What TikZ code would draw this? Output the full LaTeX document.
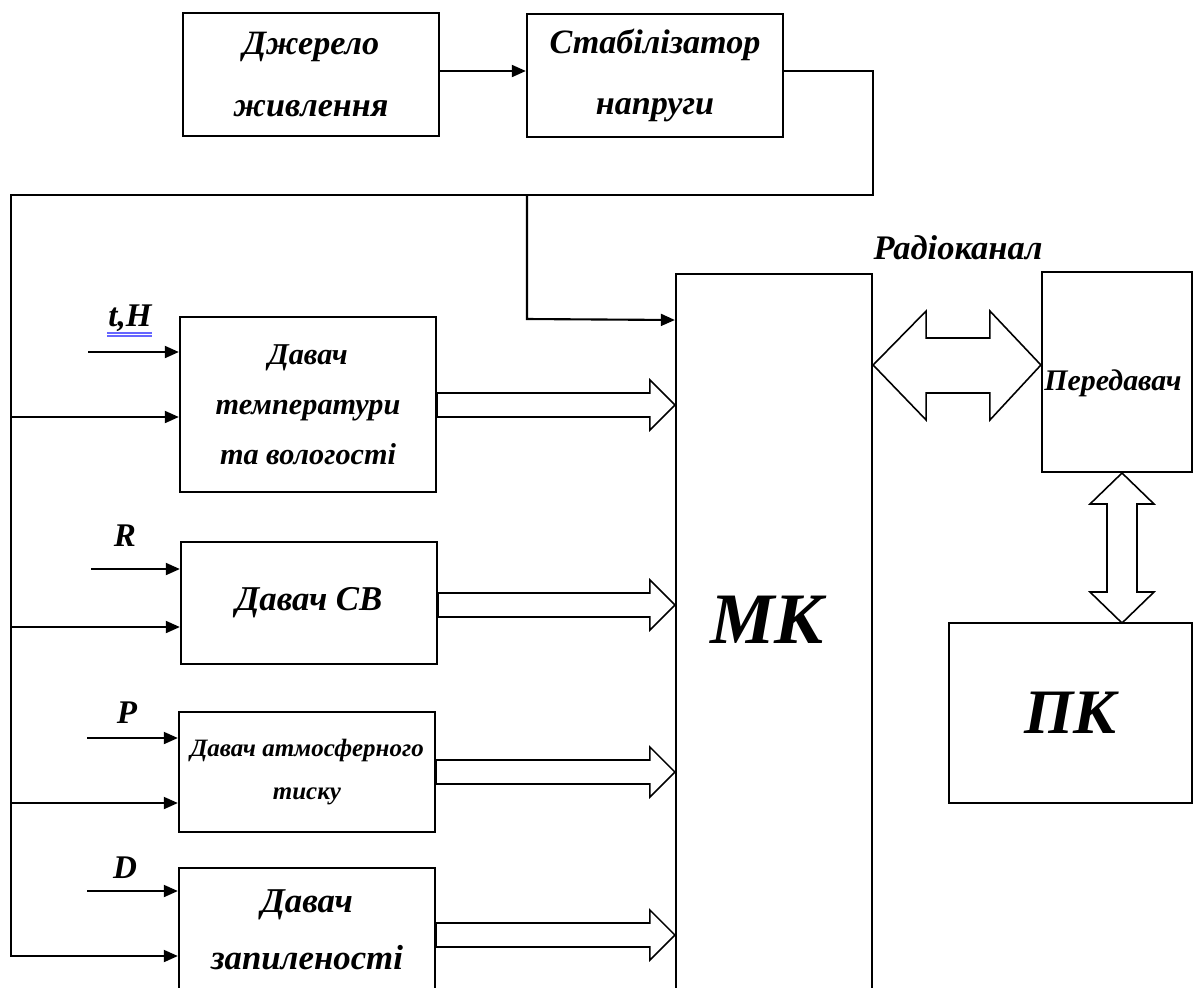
\documentclass[tikz,border=0pt]{standalone}
\usepackage{fontspec}
\setmainfont{Liberation Serif}
\usetikzlibrary{positioning,calc,arrows.meta}

\tikzset{
  blk/.style={draw, line width=0.6pt, align=center, inner sep=0pt},
  arr/.style={-{Triangle[length=4pt,width=3.4pt]}, line width=0.6pt},
  hollow/.style={draw, line width=0.45pt, fill=white, line join=miter},
  ftop/.style={font=\fontsize{9.7}{17.6}\selectfont\bfseries\itshape},
  ftemp/.style={font=\fontsize{8.6}{14.2}\selectfont\bfseries\itshape},
  fsens/.style={font=\fontsize{9.9}{16.2}\selectfont\bfseries\itshape},
  fatm/.style={font=\fontsize{7.1}{12}\selectfont\bfseries\itshape},
  fbig/.style={font=\fontsize{20.6}{22}\selectfont\bfseries\itshape},
  fpc/.style={font=\fontsize{18}{20}\selectfont\bfseries\itshape},
  fsmall/.style={font=\fontsize{8.5}{9}\selectfont\bfseries\itshape},
  fradio/.style={font=\fontsize{9.8}{11}\selectfont\bfseries\itshape},
  lab/.style={font=\fontsize{9.4}{11}\selectfont\bfseries\itshape, inner sep=0pt}
}

\begin{document}
\begin{tikzpicture}[x=0.01cm, y=-0.01cm]
\useasboundingbox (0,0) rectangle (1194,987);

% Power supply
\node[blk, ftop, minimum width=2.56cm, minimum height=1.23cm] (src) at (311,74.5) {Джерело\\живлення};
\node[blk, ftop, minimum width=2.56cm, minimum height=1.23cm] (stab) at (655,75.5) {Стабілізатор\\напруги};

% Sensors
\node[blk, ftemp, minimum width=2.56cm, minimum height=1.75cm] (temp) at (308,404.5) {Давач\\температури\\та вологості};
\node[blk, fsens, minimum width=2.56cm, minimum height=1.225cm] (sv) at (309,603) {Давач СВ};
\node[blk, fatm, minimum width=2.56cm, minimum height=1.2cm] (atm) at (307,772) {Давач атмосферного\\тиску};
\node[blk, fsens, minimum width=2.56cm, minimum height=1.24cm] (dust) at (307,930) {Давач\\запиленості};

% Microcontroller
\node[blk, minimum width=1.96cm, minimum height=7.4cm, anchor=north] (mk) at (774,273) {};
\node[fbig] (mktxt) at (767,620) {МК};

% Transmitter and PC
\node[blk, minimum width=1.5cm, minimum height=2cm,
  label={[fsmall, yshift=-0.11cm, xshift=-0.04cm]center:Передавач}] (tx) at (1117,372) {};
\node[blk, fpc, minimum width=2.43cm, minimum height=1.8cm] (pc) at (1070.5,713) {ПК};
\node[fradio] (radio) at (958,248) {Радіоканал};

% Supply lines
\draw[arr] (src.east |- 0,71) -- (stab.west |- 0,71);
\coordinate (c1) at (873,71);
\coordinate (c2) at (873,195);
\coordinate (bus) at (11,195);
\coordinate (bend) at (527,195);
\draw[arr] (stab.east |- c1) -- (c1) -- (c2) -- (bus) -- (bus |- 0,956) -- (dust.west |- 0,956);
\foreach \s/\yy in {temp/417, sv/627, atm/803}
  \draw[arr] (bus |- 0,\yy) -- (\s.west |- 0,\yy);
\draw[arr] (bend) -- (bend |- 0,319) -- (mk.west |- 0,320);

% Measured values
\node[lab] (lth) at (130,318) {t,H};
\node[lab] (lr) at (125,536) {R};
\node[lab] (lp) at (127,713) {P};
\node[lab] (ld) at (125,868) {D};
\foreach \d in {0,3}
  \draw[blue!60, line width=0.3pt] (107,333+\d) -- (152,333+\d);
\foreach \s/\yy/\xx [count=\i] in {temp/352/88, sv/569/91, atm/738/87, dust/891/87}{
  \coordinate (in\i) at (\xx,\yy);
  \draw[arr] (in\i) -- (\s.west |- in\i);
}

% Data buses to MK
\foreach \s/\yy in {temp/405, sv/605, atm/772, dust/935}{
  \coordinate (a) at (\s.east |- 0,\yy);
  \coordinate (b) at (mk.west |- 0,\yy);
  \draw[hollow] ($(a)+(0,-12)$) -- ($(b)+(-25,-12)$) -- ($(b)+(-25,-25)$) -- (b)
    -- ($(b)+(-25,25)$) -- ($(b)+(-25,12)$) -- ($(a)+(0,12)$) -- cycle;
}

% Radio channel
\coordinate (rl) at (mk.east |- 0,365);
\coordinate (rr) at (tx.west |- 0,365);
\draw[hollow] (rl) -- ++(53,-54) -- ++(0,27) -- ($(rr)+(-51,-27)$) -- ++(0,-27) -- (rr)
  -- ++(-51,55) -- ++(0,-27) -- ($(rl)+(53,28)$) -- ++(0,27) -- cycle;

% Transmitter <-> PC
\coordinate (vt) at (1122,473);
\coordinate (vb) at (1122,623);
\draw[hollow] (vt) -- ++(32,31) -- ++(-17,0) -- ($(vb)+(15,-31)$) -- ++(17,0) -- (vb)
  -- ++(-32,-31) -- ++(17,0) -- ($(vt)+(-15,31)$) -- ++(-17,0) -- cycle;
\end{tikzpicture}
\end{document}
